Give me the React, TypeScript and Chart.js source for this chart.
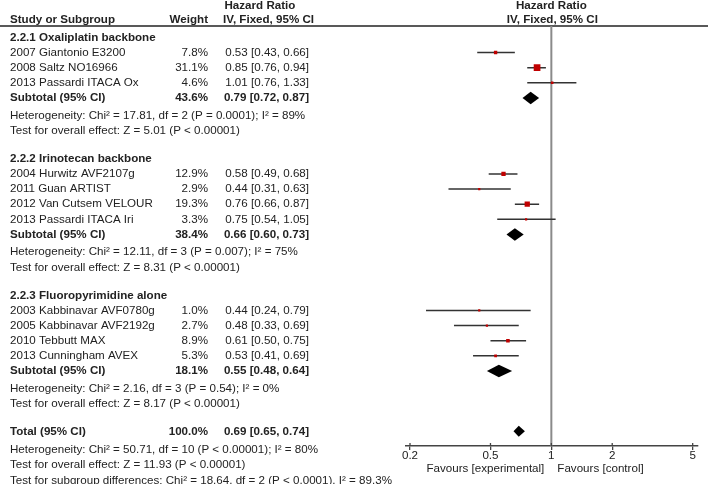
import React, { useEffect, useRef } from "react";
import { Chart, registerables } from "chart.js";

Chart.register(...registerables);

// ---------- data ----------
const groupTitles = [
  "2.2.1 Oxaliplatin backbone",
  "2.2.2 Irinotecan backbone",
  "2.2.3 Fluoropyrimidine alone",
];
const studyNames = [
  "2007 Giantonio E3200",
  "2008 Saltz NO16966",
  "2013 Passardi ITACA Ox",
  "2004 Hurwitz AVF2107g",
  "2011 Guan ARTIST",
  "2012 Van Cutsem VELOUR",
  "2013 Passardi ITACA Iri",
  "2003 Kabbinavar AVF0780g",
  "2005 Kabbinavar AVF2192g",
  "2010 Tebbutt MAX",
  "2013 Cunningham AVEX",
];
const studyGroup = [0, 0, 0, 1, 1, 1, 1, 2, 2, 2, 2];
const studyWeight = [7.8, 31.1, 4.6, 12.9, 2.9, 19.3, 3.3, 1.0, 2.7, 8.9, 5.3];
const studyHR = [0.53, 0.85, 1.01, 0.58, 0.44, 0.76, 0.75, 0.44, 0.48, 0.61, 0.53];
const studyLo = [0.43, 0.76, 0.76, 0.49, 0.31, 0.66, 0.54, 0.24, 0.33, 0.5, 0.41];
const studyHi = [0.66, 0.94, 1.33, 0.68, 0.63, 0.87, 1.05, 0.79, 0.69, 0.75, 0.69];

const subtotalWeight = [43.6, 38.4, 18.1];
const subtotalHR = [0.79, 0.66, 0.55];
const subtotalLo = [0.72, 0.6, 0.48];
const subtotalHi = [0.87, 0.73, 0.64];
const subtotalHeterogeneity = [
  "Heterogeneity: Chi² = 17.81, df = 2 (P = 0.0001); I² = 89%",
  "Heterogeneity: Chi² = 12.11, df = 3 (P = 0.007); I² = 75%",
  "Heterogeneity: Chi² = 2.16, df = 3 (P = 0.54); I² = 0%",
];
const subtotalOverall = [
  "Test for overall effect: Z = 5.01 (P < 0.00001)",
  "Test for overall effect: Z = 8.31 (P < 0.00001)",
  "Test for overall effect: Z = 8.17 (P < 0.00001)",
];

const totalWeight = 100.0;
const totalHR = 0.69;
const totalLo = 0.65;
const totalHi = 0.74;
const totalHeterogeneity = "Heterogeneity: Chi² = 50.71, df = 10 (P < 0.00001); I² = 80%";
const totalOverall = "Test for overall effect: Z = 11.93 (P < 0.00001)";
const subgroupDifferences = "Test for subgroup differences: Chi² = 18.64, df = 2 (P < 0.0001), I² = 89.3%";

const xTicks = [0.2, 0.5, 1, 2, 5];
const favoursLeft = "Favours [experimental]";
const favoursRight = "Favours [control]";

// ---------- style / layout ----------
const FONT = '"Liberation Sans", Arial, Helvetica, sans-serif';
const FS = 11.6;
const TEXT = "#222222";
const RED = "#c00000";
const W = 708;
const H = 484;

type Row = { kind: string; y: number; idx: number };

function buildRows(): Row[] {
  const rows: Row[] = [];
  const STEP = 15.3;
  let y = 33;
  for (let g = 0; g < groupTitles.length; g++) {
    rows.push({ kind: "group", y, idx: g });
    studyGroup.forEach((sg, i) => {
      if (sg === g) {
        y += STEP;
        rows.push({ kind: "study", y, idx: i });
      }
    });
    y += STEP;
    rows.push({ kind: "subtotal", y, idx: g });
    y += 18;
    rows.push({ kind: "het", y, idx: g });
    y += 15.5;
    rows.push({ kind: "test", y, idx: g });
    y += 28;
  }
  y -= 0.5;
  rows.push({ kind: "total", y, idx: 0 });
  y += 18.5;
  rows.push({ kind: "totalHet", y, idx: 0 });
  y += 15.5;
  rows.push({ kind: "totalTest", y, idx: 0 });
  y += 15.5;
  rows.push({ kind: "subgroupTest", y, idx: 0 });
  return rows;
}

const fmtCI = (e: number, l: number, h: number) =>
  `${e.toFixed(2)} [${l.toFixed(2)}, ${h.toFixed(2)}]`;

export default function App() {
  const ref = useRef<HTMLCanvasElement>(null);

  useEffect(() => {
    document.body.style.margin = "0";
    const canvas = ref.current;
    if (!canvas) return;
    const rows = buildRows();
    const studyRowY: number[] = [];
    const subtotalRowY: number[] = [];
    let totalRowY = 0;
    rows.forEach((r) => {
      if (r.kind === "study") studyRowY[r.idx] = r.y;
      if (r.kind === "subtotal") subtotalRowY[r.idx] = r.y;
      if (r.kind === "total") totalRowY = r.y;
    });

    const side = (w: number) => Math.max(2.2, 1.2 * Math.sqrt(w));
    const radii = studyWeight.map((w) => side(w) / Math.SQRT2);

    const ciDatasets = studyHR.map((_, i) => ({
      type: "scatter" as const,
      data: [
        { x: studyLo[i], y: studyRowY[i] },
        { x: studyHi[i], y: studyRowY[i] },
      ],
      showLine: true,
      borderColor: "#333333",
      borderWidth: 1.5,
      pointRadius: 0,
      order: 2,
    }));

    const forestPlugin = {
      id: "forest",
      beforeDatasetsDraw(chart: any) {
        const ctx = chart.ctx;
        const xs = chart.scales.x;
        const ca = chart.chartArea;
        ctx.save();
        // header rule
        ctx.strokeStyle = "#222";
        ctx.lineWidth = 1.3;
        ctx.beginPath();
        ctx.moveTo(0, 26);
        ctx.lineTo(W, 26);
        ctx.stroke();
        // line of no effect
        const x1 = xs.getPixelForValue(1);
        ctx.strokeStyle = "#8a8a8a";
        ctx.lineWidth = 2;
        ctx.beginPath();
        ctx.moveTo(x1, 26);
        ctx.lineTo(x1, ca.bottom);
        ctx.stroke();
        ctx.restore();
      },
      afterDatasetsDraw(chart: any) {
        const ctx = chart.ctx;
        const xs = chart.scales.x;
        const ys = chart.scales.y;
        const ca = chart.chartArea;
        ctx.save();

        // diamonds
        const diamond = (e: number, l: number, h: number, yv: number, hh: number) => {
          const py = ys.getPixelForValue(yv);
          ctx.beginPath();
          ctx.moveTo(xs.getPixelForValue(l), py);
          ctx.lineTo(xs.getPixelForValue(e), py - hh);
          ctx.lineTo(xs.getPixelForValue(h), py);
          ctx.lineTo(xs.getPixelForValue(e), py + hh);
          ctx.closePath();
          ctx.fillStyle = "#000";
          ctx.fill();
        };
        subtotalHR.forEach((e, g) => diamond(e, subtotalLo[g], subtotalHi[g], subtotalRowY[g], 6.2));
        diamond(totalHR, totalLo, totalHi, totalRowY, 5.5);

        // upper halves of axis ticks
        ctx.strokeStyle = "#444";
        ctx.lineWidth = 1.3;
        xTicks.forEach((t) => {
          const px = xs.getPixelForValue(t);
          ctx.beginPath();
          ctx.moveTo(px, ca.bottom);
          ctx.lineTo(px, ca.bottom - 3);
          ctx.stroke();
        });

        // text
        const reg = `${FS}px ${FONT}`;
        const bold = `bold ${FS}px ${FONT}`;
        ctx.fillStyle = TEXT;
        ctx.textBaseline = "middle";
        const txt = (s: string, x: number, y: number, align: CanvasTextAlign, f: string) => {
          ctx.font = f;
          ctx.textAlign = align;
          ctx.fillText(s, x, y);
        };
        const NAME_X = 10;
        const WEIGHT_X = 208;
        const CI_X = 309;
        const x1 = xs.getPixelForValue(1);

        txt("Hazard Ratio", 224.5, 6, "left", bold);
        txt("Study or Subgroup", NAME_X, 20, "left", bold);
        txt("Weight", WEIGHT_X, 20, "right", bold);
        txt("IV, Fixed, 95% CI", 223, 20, "left", bold);
        txt("Hazard Ratio", x1, 6, "center", bold);
        txt("IV, Fixed, 95% CI", x1 + 1, 20, "center", bold);

        rows.forEach((r) => {
          const y = ys.getPixelForValue(r.y);
          if (r.kind === "group") txt(groupTitles[r.idx], NAME_X, y, "left", bold);
          else if (r.kind === "study") {
            const i = r.idx;
            txt(studyNames[i], NAME_X, y, "left", reg);
            txt(`${studyWeight[i].toFixed(1)}%`, WEIGHT_X, y, "right", reg);
            txt(fmtCI(studyHR[i], studyLo[i], studyHi[i]), CI_X, y, "right", reg);
          } else if (r.kind === "subtotal") {
            const g = r.idx;
            txt("Subtotal (95% CI)", NAME_X, y, "left", bold);
            txt(`${subtotalWeight[g].toFixed(1)}%`, WEIGHT_X, y, "right", bold);
            txt(fmtCI(subtotalHR[g], subtotalLo[g], subtotalHi[g]), CI_X, y, "right", bold);
          } else if (r.kind === "het") txt(subtotalHeterogeneity[r.idx], NAME_X, y, "left", reg);
          else if (r.kind === "test") txt(subtotalOverall[r.idx], NAME_X, y, "left", reg);
          else if (r.kind === "total") {
            txt("Total (95% CI)", NAME_X, y, "left", bold);
            txt(`${totalWeight.toFixed(1)}%`, WEIGHT_X, y, "right", bold);
            txt(fmtCI(totalHR, totalLo, totalHi), CI_X, y, "right", bold);
          } else if (r.kind === "totalHet") txt(totalHeterogeneity, NAME_X, y, "left", reg);
          else if (r.kind === "totalTest") txt(totalOverall, NAME_X, y, "left", reg);
          else if (r.kind === "subgroupTest") txt(subgroupDifferences, NAME_X, y, "left", reg);
        });

        txt(favoursLeft, x1 - 7, 469, "right", reg);
        txt(favoursRight, x1 + 6, 469, "left", reg);
        ctx.restore();
      },
    };

    const chart = new Chart(canvas, {
      type: "scatter",
      data: {
        datasets: [
          {
            type: "scatter",
            data: studyHR.map((hr, i) => ({ x: hr, y: studyRowY[i] })),
            pointStyle: "rect",
            pointRadius: (c: any) => radii[c.dataIndex] ?? 1,
            pointHoverRadius: (c: any) => radii[c.dataIndex] ?? 1,
            backgroundColor: RED,
            borderColor: RED,
            borderWidth: 0,
            order: 0,
          } as any,
          ...ciDatasets,
        ],
      },
      options: {
        animation: false,
        responsive: false,
        maintainAspectRatio: false,
        events: [],
        layout: { padding: { left: 405.5, right: 10.2, top: 0, bottom: 18 } },
        plugins: { legend: { display: false }, tooltip: { enabled: false } },
        scales: {
          x: {
            type: "logarithmic",
            min: 0.19,
            max: 5.3,
            position: "bottom",
            afterBuildTicks: (s: any) => {
              s.ticks = xTicks.map((v) => ({ value: v }));
            },
            afterFit: (s: any) => {
              s.height = 20;
            },
            grid: {
              drawOnChartArea: false,
              drawTicks: true,
              tickLength: 4,
              color: "#444",
              lineWidth: 1.3,
            },
            border: { display: true, color: "#444", width: 1.5 },
            ticks: {
              callback: (v: any) => String(v),
              font: { family: FONT, size: FS },
              color: TEXT,
              padding: -1,
              maxRotation: 0,
              autoSkip: false,
            },
          },
          y: {
            type: "linear",
            reverse: true,
            min: 0,
            max: 446,
            display: false,
          },
        },
      },
      plugins: [forestPlugin],
    } as any);

    return () => chart.destroy();
  }, []);

  return (
    <div style={{ position: "absolute", left: 0, top: 0, width: W, height: H }}>
      <canvas ref={ref} width={W} height={H} style={{ display: "block", width: W, height: H }} />
    </div>
  );
}
